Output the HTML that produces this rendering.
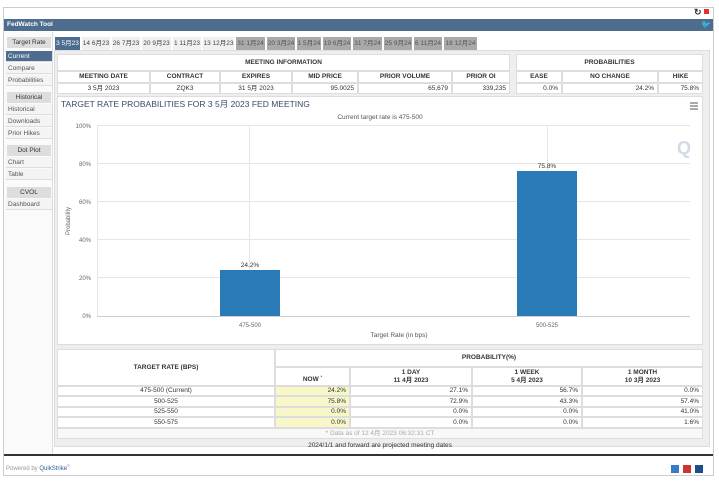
<!DOCTYPE html>
<html><head><meta charset="utf-8"><style>
*{margin:0;padding:0;box-sizing:border-box}
body{width:719px;height:484px;background:#fff;font-family:"Liberation Sans","Noto Sans CJK SC",sans-serif;position:relative;overflow:hidden;color:#333}
.a{position:absolute}
.t{position:absolute;font-size:6.5px;white-space:nowrap}
.c{text-align:center}
.r{text-align:right}
.sb{position:absolute;left:6px;width:46px;height:11px;font-size:6.5px;line-height:11px;padding-left:2px;background:#f4f4f4;border-bottom:1px solid #ddd;color:#555}
.sh{position:absolute;left:7px;width:44px;height:11px;font-size:6.5px;line-height:11px;text-align:center;background:#ddd;color:#333}
.tab{position:absolute;top:37px;height:13px;font-size:6.5px;line-height:13px;text-align:center;background:#f0f0f0;color:#444}
.tab.g{background:#a9a9a9;color:#555}
.cell{position:absolute;border:1px solid #ddd;font-size:6.5px;background:#fff;line-height:10px;padding:0 3px;white-space:nowrap}
</style></head><body>
<div class="a" style="left:3px;top:7px;width:711px;height:469px;border:1px solid #ccc"></div>
<div class="t" style="left:694px;top:7px;font-size:9px;font-weight:bold">↻</div>
<div class="a" style="left:704px;top:9px;width:5px;height:5px;background:#d33"></div>
<div class="a" style="left:4px;top:19px;width:709px;height:12px;background:#4d6c8e"></div>
<div class="t" style="left:7px;top:21px;color:#fff;font-weight:bold;font-size:6.5px">FedWatch Tool</div>
<div class="t" style="left:701px;top:20px;color:#7cc4f0;font-size:8px">🐦</div>
<div class="a" style="left:4px;top:32px;width:49px;height:422px;background:#fafafa;border-right:1px solid #ddd"></div>
<div class="sh" style="top:37px">Target Rate</div>
<div class="sb" style="top:51px;background:#4d6c8e;color:#fff">Current</div>
<div class="sb" style="top:63px">Compare</div>
<div class="sb" style="top:75px">Probabilities</div>
<div class="sh" style="top:92px">Historical</div>
<div class="sb" style="top:104px">Historical</div>
<div class="sb" style="top:116px">Downloads</div>
<div class="sb" style="top:128px">Prior Hikes</div>
<div class="sh" style="top:145px">Dot Plot</div>
<div class="sb" style="top:157px">Chart</div>
<div class="sb" style="top:169px">Table</div>
<div class="sh" style="top:187px">CVOL</div>
<div class="sb" style="top:199px">Dashboard</div>
<div class="a" style="left:54px;top:50px;width:656px;height:397px;background:#eee;border:1px solid #ddd"></div>
<div class="tab" style="left:55px;width:25px;background:#4d6c8e;color:#fff">3 5月23</div>
<div class="tab" style="left:82px;width:28px">14 6月23</div>
<div class="tab" style="left:112px;width:28px">26 7月23</div>
<div class="tab" style="left:142px;width:29px">20 9月23</div>
<div class="tab" style="left:173px;width:28px">1 11月23</div>
<div class="tab" style="left:203px;width:31px">13 12月23</div>
<div class="tab g" style="left:236px;width:29px">31 1月24</div>
<div class="tab g" style="left:267px;width:28px">20 3月24</div>
<div class="tab g" style="left:297px;width:24px">1 5月24</div>
<div class="tab g" style="left:323px;width:28px">19 6月24</div>
<div class="tab g" style="left:353px;width:29px">31 7月24</div>
<div class="tab g" style="left:384px;width:28px">25 9月24</div>
<div class="tab g" style="left:414px;width:28px">6 11月24</div>
<div class="tab g" style="left:444px;width:33px">18 12月24</div>
<!-- meeting info -->
<div class="cell c" style="left:57px;top:54px;width:453px;height:17px;line-height:15px;font-weight:bold">MEETING INFORMATION</div>
<div class="cell c" style="left:57px;top:71px;width:93px;height:12px;font-weight:bold">MEETING DATE</div>
<div class="cell c" style="left:150px;top:71px;width:70px;height:12px;font-weight:bold">CONTRACT</div>
<div class="cell c" style="left:220px;top:71px;width:72px;height:12px;font-weight:bold">EXPIRES</div>
<div class="cell c" style="left:292px;top:71px;width:66px;height:12px;font-weight:bold">MID PRICE</div>
<div class="cell c" style="left:358px;top:71px;width:94px;height:12px;font-weight:bold">PRIOR VOLUME</div>
<div class="cell c" style="left:452px;top:71px;width:58px;height:12px;font-weight:bold">PRIOR OI</div>
<div class="cell c" style="left:57px;top:83px;width:93px;height:11px">3 5月 2023</div>
<div class="cell c" style="left:150px;top:83px;width:70px;height:11px">ZQK3</div>
<div class="cell c" style="left:220px;top:83px;width:72px;height:11px">31 5月 2023</div>
<div class="cell r" style="left:292px;top:83px;width:66px;height:11px">95.0025</div>
<div class="cell r" style="left:358px;top:83px;width:94px;height:11px">65,679</div>
<div class="cell r" style="left:452px;top:83px;width:58px;height:11px">339,235</div>
<div class="cell c" style="left:516px;top:54px;width:187px;height:17px;line-height:15px;font-weight:bold">PROBABILITIES</div>
<div class="cell c" style="left:516px;top:71px;width:46px;height:12px;font-weight:bold">EASE</div>
<div class="cell c" style="left:562px;top:71px;width:96px;height:12px;font-weight:bold">NO CHANGE</div>
<div class="cell c" style="left:658px;top:71px;width:45px;height:12px;font-weight:bold">HIKE</div>
<div class="cell r" style="left:516px;top:83px;width:46px;height:11px">0.0%</div>
<div class="cell r" style="left:562px;top:83px;width:96px;height:11px">24.2%</div>
<div class="cell r" style="left:658px;top:83px;width:45px;height:11px">75.8%</div>
<!-- chart -->
<div class="a" style="left:57px;top:96px;width:646px;height:249px;background:#fff;border:1px solid #ddd"></div>
<svg class="a" style="left:0;top:0" width="719" height="484" font-family="Liberation Sans, Noto Sans CJK SC, sans-serif">
<text x="61" y="107" font-size="8.5" fill="#3a4a6a">TARGET RATE PROBABILITIES FOR 3 5月 2023 FED MEETING</text>
<text x="380" y="119" font-size="6.5" fill="#555" text-anchor="middle">Current target rate is 475-500</text>
<g stroke="#555" stroke-width="1"><line x1="690" y1="103" x2="698" y2="103"/><line x1="690" y1="106" x2="698" y2="106"/><line x1="690" y1="109" x2="698" y2="109"/></g>
<text x="677" y="154" font-size="18" fill="#cfdbe6" font-weight="bold">Q</text>
<g stroke="#e6e6e6" stroke-width="1">
<line x1="97" y1="125.5" x2="690" y2="125.5"/><line x1="97" y1="163.5" x2="690" y2="163.5"/><line x1="97" y1="201.5" x2="690" y2="201.5"/><line x1="97" y1="239.5" x2="690" y2="239.5"/><line x1="97" y1="277.5" x2="690" y2="277.5"/>
<line x1="249.5" y1="125" x2="249.5" y2="316"/><line x1="547.5" y1="125" x2="547.5" y2="316"/><line x1="97.5" y1="125" x2="97.5" y2="316"/>
</g>
<line x1="97" y1="316.5" x2="690" y2="316.5" stroke="#ccc"/>
<g font-size="6" fill="#666" text-anchor="end">
<text x="91" y="128">100%</text><text x="91" y="166">80%</text><text x="91" y="204">60%</text><text x="91" y="242">40%</text><text x="91" y="280">20%</text><text x="91" y="318">0%</text>
</g>
<text x="70" y="221" font-size="6" fill="#666" text-anchor="middle" transform="rotate(-90 70 221)">Probability</text>
<rect x="220" y="270" width="60" height="46" fill="#2a7ab8"/>
<rect x="517" y="171" width="60" height="145" fill="#2a7ab8"/>
<text x="250" y="267" font-size="6.5" fill="#333" text-anchor="middle">24.2%</text>
<text x="547" y="168" font-size="6.5" fill="#333" text-anchor="middle">75.8%</text>
<text x="250" y="327" font-size="6" fill="#666" text-anchor="middle">475-500</text>
<text x="547" y="327" font-size="6" fill="#666" text-anchor="middle">500-525</text>
<text x="399" y="337" font-size="6.5" fill="#555" text-anchor="middle">Target Rate (in bps)</text>
</svg>
<!-- bottom table -->
<div class="cell c" style="left:57px;top:349px;width:218px;height:37px;line-height:35px;font-weight:bold">TARGET RATE (BPS)</div>
<div class="cell c" style="left:275px;top:349px;width:428px;height:18px;line-height:16px;font-weight:bold">PROBABILITY(%)</div>
<div class="cell c" style="left:275px;top:367px;width:75px;height:19px;line-height:17px;font-weight:bold">NOW <sup style="font-size:4px">*</sup></div>
<div class="cell c" style="left:350px;top:367px;width:122px;height:19px;line-height:8px;padding-top:1px;font-weight:bold">1 DAY<br>11 4月 2023</div>
<div class="cell c" style="left:472px;top:367px;width:110px;height:19px;line-height:8px;padding-top:1px;font-weight:bold">1 WEEK<br>5 4月 2023</div>
<div class="cell c" style="left:582px;top:367px;width:121px;height:19px;line-height:8px;padding-top:1px;font-weight:bold">1 MONTH<br>10 3月 2023</div>
<div class="cell c" style="left:57px;top:386px;width:218px;height:10px;line-height:8px">475-500 (Current)</div>
<div class="cell r" style="left:275px;top:386px;width:75px;height:10px;line-height:8px;background:#f7f7c8">24.2%</div>
<div class="cell r" style="left:350px;top:386px;width:122px;height:10px;line-height:8px">27.1%</div>
<div class="cell r" style="left:472px;top:386px;width:110px;height:10px;line-height:8px">56.7%</div>
<div class="cell r" style="left:582px;top:386px;width:121px;height:10px;line-height:8px">0.0%</div>
<div class="cell c" style="left:57px;top:396px;width:218px;height:11px;line-height:9px">500-525</div>
<div class="cell r" style="left:275px;top:396px;width:75px;height:11px;line-height:9px;background:#f7f7c8">75.8%</div>
<div class="cell r" style="left:350px;top:396px;width:122px;height:11px;line-height:9px">72.9%</div>
<div class="cell r" style="left:472px;top:396px;width:110px;height:11px;line-height:9px">43.3%</div>
<div class="cell r" style="left:582px;top:396px;width:121px;height:11px;line-height:9px">57.4%</div>
<div class="cell c" style="left:57px;top:407px;width:218px;height:10px;line-height:8px">525-550</div>
<div class="cell r" style="left:275px;top:407px;width:75px;height:10px;line-height:8px;background:#f7f7c8">0.0%</div>
<div class="cell r" style="left:350px;top:407px;width:122px;height:10px;line-height:8px">0.0%</div>
<div class="cell r" style="left:472px;top:407px;width:110px;height:10px;line-height:8px">0.0%</div>
<div class="cell r" style="left:582px;top:407px;width:121px;height:10px;line-height:8px">41.0%</div>
<div class="cell c" style="left:57px;top:417px;width:218px;height:11px;line-height:9px">550-575</div>
<div class="cell r" style="left:275px;top:417px;width:75px;height:11px;line-height:9px;background:#f7f7c8">0.0%</div>
<div class="cell r" style="left:350px;top:417px;width:122px;height:11px;line-height:9px">0.0%</div>
<div class="cell r" style="left:472px;top:417px;width:110px;height:11px;line-height:9px">0.0%</div>
<div class="cell r" style="left:582px;top:417px;width:121px;height:11px;line-height:9px">1.6%</div>
<div class="cell c" style="left:57px;top:428px;width:646px;height:11px;line-height:9px;color:#aaa;background:#f8f8f8">* Data as of 12 4月 2023 06:32:31 CT</div>
<div class="t c" style="left:57px;top:442px;width:646px">2024/1/1 and forward are projected meeting dates</div>
<div class="a" style="left:4px;top:454px;width:709px;height:2px;background:#333"></div>
<div class="t" style="left:6px;top:463px;color:#999;font-size:6px">Powered by <span style="color:#2a5a9a">QuikStrike</span><sup style="font-size:4px">®</sup></div>
<div class="a" style="left:671px;top:465px;width:8px;height:8px;background:#3a7bc8"></div>
<div class="a" style="left:683px;top:465px;width:8px;height:8px;background:#c33"></div>
<div class="a" style="left:695px;top:465px;width:8px;height:8px;background:#1a4f8a"></div>
</body></html>
